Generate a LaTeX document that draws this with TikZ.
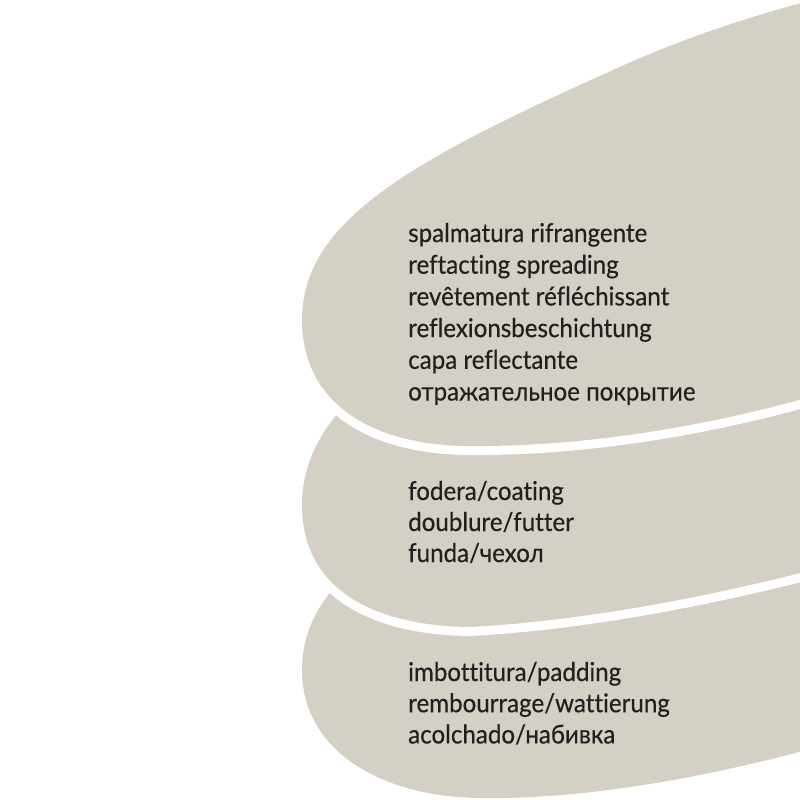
\documentclass[tikz,border=0pt]{standalone}
\usepackage{fontspec}
\setmainfont{Lato}[Ligatures={NoCommon,NoRequired,NoContextual},FakeStretch=0.93,FakeBold=0.4]
\definecolor{layergrey}{RGB}{212,208,198}
\definecolor{inkgrey}{RGB}{35,31,32}
\newlength\measurelen
\AtBeginDocument{%
  \settowidth{\measurelen}{\fontsize{10}{12}\selectfont spalmatura rifrangente}%
  \pgfmathsetmacro\fs{2390/\measurelen}%
  \xdef\fs{\fs}}
\begin{document}
\begin{tikzpicture}[x=1pt,y=-1pt,
  shapefill/.style={fill=layergrey,preaction={draw=white,line width=18pt}},
  linetext/.style={anchor=base west,inner sep=0pt,text=inkgrey,font=\fontsize{\fs}{\fs}\selectfont}]
\useasboundingbox (0,0) rectangle (800,800);
\fill[white] (0,0) rectangle (800,800);
\clip (0,0) rectangle (800,800);
% bottom layer
\path[shapefill] (302,670) .. controls (302,630) and (320,600) .. (350,570)
  -- (400,540) -- (850,540) -- (850,738)
  .. controls (740,770) and (600,800) .. (480,798)
  .. controls (380,797) and (302,750) .. (302,670) -- cycle;
% middle layer
\path[shapefill] (302,505) .. controls (302,465) and (320,430) .. (350,400)
  -- (400,360) -- (850,360) -- (850,560)
  .. controls (740,590) and (600,620) .. (470,627)
  .. controls (375,626) and (302,590) .. (302,505) -- cycle;
% top layer
\path[shapefill] (302,320) .. controls (302,220) and (413,160) .. (613,70)
  .. controls (700,30) and (780,8) .. (850,-10) -- (850,385)
  .. controls (740,420) and (600,447) .. (470,446)
  .. controls (375,446) and (302,405) .. (302,320) -- cycle;
% texts
\node[linetext] (a1) at (408,242.0) {spalmatura rifrangente};
\node[linetext] (a2) at (408,273.7) {reftacting spreading};
\node[linetext] (a3) at (408,305.4) {revêtement réfléchissant};
\node[linetext] (a4) at (408,337.1) {reflexionsbeschichtung};
\node[linetext] (a5) at (408,368.8) {capa reflectante};
\node[linetext] (a6) at (408,400.5) {отражательное покрытие};
\node[linetext] (b1) at (408,500.0) {fodera/coating};
\node[linetext] (b2) at (408,531.0) {doublure/futter};
\node[linetext] (b3) at (408,562.0) {funda/чехол};
\node[linetext] (c1) at (408,681.0) {imbottitura/padding};
\node[linetext] (c2) at (408,712.2) {rembourrage/wattierung};
\node[linetext] (c3) at (408,743.4) {acolchado/набивка};
\end{tikzpicture}
\end{document}
